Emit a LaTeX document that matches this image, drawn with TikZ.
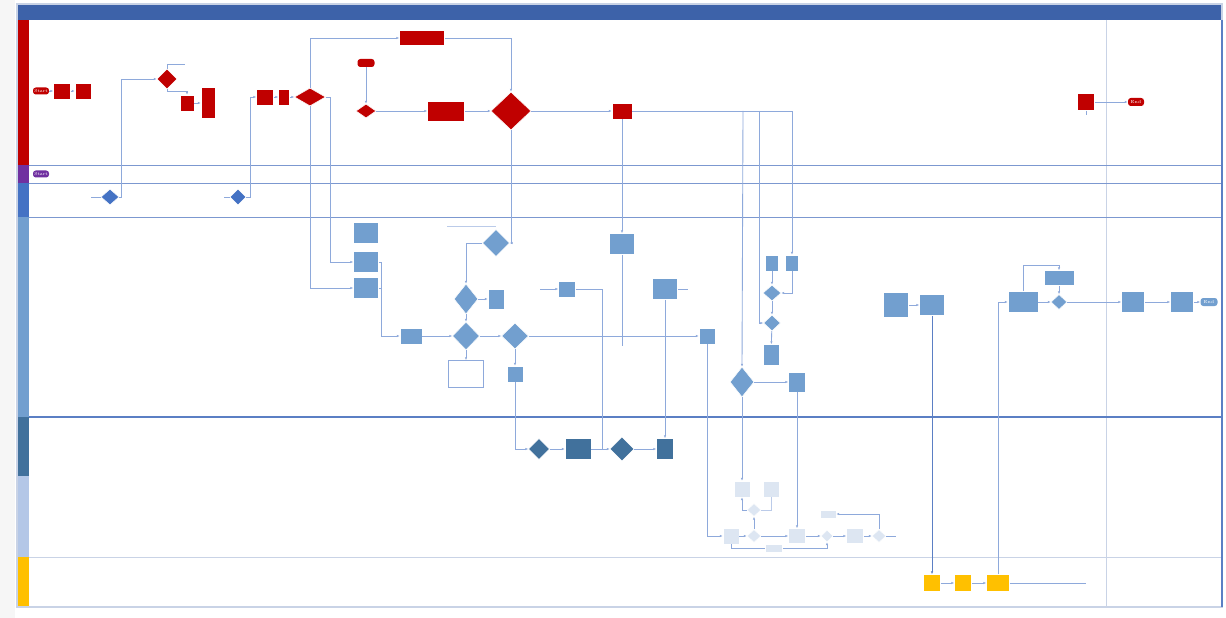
\documentclass[tikz,border=0pt]{standalone}
\usetikzlibrary{shapes.geometric,arrows.meta}
\definecolor{hdr}{HTML}{3D62A9}
\definecolor{rd}{HTML}{C00000}
\definecolor{pu}{HTML}{7030A0}
\definecolor{bl}{HTML}{4472C4}
\definecolor{st}{HTML}{729FCF}
\definecolor{dk}{HTML}{41719C}
\definecolor{pl}{HTML}{B4C7E7}
\definecolor{plf}{HTML}{DDE6F2}
\definecolor{yl}{HTML}{FFC000}
\definecolor{ln}{HTML}{8EA9DB}
\definecolor{lnd}{HTML}{5B7FC4}
\definecolor{fr}{HTML}{C9D3E6}
\tikzset{
  sz/.style 2 args={minimum width=#1*0.02cm,minimum height=#2*0.02cm},
  bx/.style={rectangle,fill=#1,draw=white,line width=0.3pt,inner sep=0pt},
  dm/.style={diamond,fill=#1,draw=white,line width=0.3pt,inner sep=0pt},
  tm/.style={rectangle,rounded corners=1.6pt,fill=#1,inner sep=0pt,text=white,font=\fontsize{2.5}{3}\selectfont},
  cn/.style={draw=ln,line width=0.5pt,-{Latex[length=1.6pt,width=1.3pt]}},
  cl/.style={draw=ln,line width=0.5pt},
}
\begin{document}
\begin{tikzpicture}[x=0.02cm,y=-0.02cm]
\useasboundingbox (0,0) rectangle (1226,618);
\fill[gray!7] (0,0) rectangle (15,618);
% frame, title bar, lanes
\fill[white] (17,4) rectangle (1222,607);
\fill[hdr] (17,4) rectangle (1222,20);
\foreach \ya/\yb/\c in {20/165/rd,165/183/pu,183/217/bl,217/417/st,417/476/dk,476/557/pl,557/607/yl}
  {\fill[\c] (17,\ya) rectangle (29,\yb);}
\draw[fr,line width=0.4pt] (1106,20) -- (1106,607);
\foreach \y in {165,183,217} {\draw[lnd!80,line width=0.5pt] (29,\y) -- (1222,\y);}
\draw[lnd,line width=0.8pt] (29,417) -- (1222,417);
\draw[fr,line width=0.5pt] (29,557) -- (1222,557);
\draw[fr,line width=0.8pt] (17,4) rectangle (1222,607);
\draw[lnd,line width=0.6pt] (1222,20) -- (1222,607);

% red lane
\node[tm=rd,sz={16}{7}] (st1) at (41,91) {Start};
\node[bx=rd,sz={17}{16}] (r1) at (62,91) {};
\node[bx=rd,sz={16}{16}] (r2) at (83,91) {};
\node[dm=rd,sz={20}{20}] (rq1) at (167,79) {};
\node[bx=rd,sz={14}{16}] (r3) at (187,103) {};
\node[bx=rd,sz={14}{31}] (r4) at (208,103) {};
\node[bx=rd,sz={17}{16}] (r5) at (265,97) {};
\node[bx=rd,sz={11}{16}] (r6) at (284,97) {};
\node[dm=rd,sz={31}{18}] (rq2) at (310,97) {};
\node[bx=rd,sz={45}{15}] (r7) at (422,38) {};
\node[tm=rd,sz={17}{8}] (rt) at (366,63) {};
\node[dm=rd,sz={20}{14}] (rq3) at (366,111) {};
\node[bx=rd,sz={37}{20}] (r8) at (446,111) {};
\node[dm=rd,sz={40}{38}] (rq4) at (511,111) {};
\node[bx=rd,sz={20}{16}] (r9) at (622,111) {};
\node[bx=rd,sz={17}{17}] (r10) at (1086,102) {};
\node[tm=rd,sz={16}{8}] (en1) at (1136,102) {End};
% purple and blue lanes
\node[tm=pu,sz={16}{7}] (st2) at (41,174) {Start};
\node[dm=bl,sz={18}{16}] (bq1) at (110,197) {};
\node[dm=bl,sz={16}{16}] (bq2) at (238,197) {};
% steel lane
\node[bx=st,sz={25}{21}] (s1) at (366,233) {};
\node[bx=st,sz={25}{21}] (s2) at (366,262) {};
\node[bx=st,sz={25}{21}] (s3) at (366,288) {};
\node[dm=st,sz={27}{27}] (sq1) at (496,243) {};
\node[dm=st,sz={24}{30}] (sq2) at (466,299) {};
\node[bx=st,sz={16}{20}] (s5) at (496,299) {};
\node[bx=st,sz={22}{16}] (s4) at (411,336) {};
\node[dm=st,sz={27}{28}] (sq3) at (466,336) {};
\node[dm=st,sz={27}{26}] (sq4) at (515,336) {};
\node[rectangle,draw=ln,fill=white,line width=0.4pt,sz={35}{27}] (nt) at (466,374) {};
\node[bx=st,sz={16}{16}] (s6) at (515,374) {};
\node[bx=st,sz={17}{16}] (s7) at (567,289) {};
\node[bx=st,sz={25}{21}] (s8) at (622,244) {};
\node[bx=st,sz={25}{21}] (s10) at (665,289) {};
\node[bx=st,sz={16}{16}] (s9) at (707,336) {};
\node[bx=st,sz={13}{16}] (sa) at (772,263) {};
\node[bx=st,sz={13}{16}] (sb) at (792,263) {};
\node[dm=st,sz={18}{16}] (sq5) at (772,293) {};
\node[dm=st,sz={17}{16}] (sq6) at (772,323) {};
\node[bx=st,sz={16}{21}] (sc) at (771,355) {};
\node[dm=st,sz={24}{30}] (sq7) at (742,382) {};
\node[bx=st,sz={17}{20}] (s11) at (797,382) {};
\node[bx=st,sz={25}{25}] (s12) at (896,305) {};
\node[bx=st,sz={25}{21}] (s13) at (932,305) {};
\node[bx=st,sz={30}{21}] (s14) at (1023,302) {};
\node[bx=st,sz={30}{15}] (s15) at (1059,278) {};
\node[dm=st,sz={16}{15}] (sq8) at (1059,302) {};
\node[bx=st,sz={23}{21}] (s16) at (1133,302) {};
\node[bx=st,sz={23}{21}] (s17) at (1182,302) {};
\node[tm=st,sz={17}{8}] (en2) at (1209,302) {End};
% dark lane
\node[dm=dk,sz={21}{21}] (dq1) at (539,449) {};
\node[bx=dk,sz={26}{21}] (d1) at (578,449) {};
\node[dm=dk,sz={24}{24}] (dq2) at (622,449) {};
\node[bx=dk,sz={17}{21}] (d2) at (665,449) {};
% pale lane
\node[bx=plf,sz={16}{16}] (p1) at (742,489) {};
\node[bx=plf,sz={16}{16}] (p2) at (771,489) {};
\node[dm=plf,sz={14}{13}] (pq1) at (754,510) {};
\node[bx=plf,sz={16}{16}] (p3) at (731,536) {};
\node[dm=plf,sz={14}{13}] (pq2) at (754,536) {};
\node[bx=plf,sz={17}{15}] (p5) at (797,536) {};
\node[dm=plf,sz={12}{12}] (pq3) at (827,536) {};
\node[bx=plf,sz={17}{15}] (p6) at (855,536) {};
\node[dm=plf,sz={14}{13}] (pq4) at (879,536) {};
\node[bx=plf,sz={16}{8}] (p7) at (828,514) {};
\node[bx=plf,sz={17}{8}] (p8) at (774,548) {};
% yellow lane
\node[bx=yl,sz={17}{17}] (y1) at (932,583) {};
\node[bx=yl,sz={17}{17}] (y2) at (963,583) {};
\node[bx=yl,sz={23}{17}] (y3) at (998,583) {};

\coordinate (j1) at (743,111);
\coordinate (j2) at (759,111);
\coordinate (j3) at (602,449);
\coordinate (j4) at (540,289);
\coordinate (j5) at (1086,583);

% connectors
\draw[cn] (st1) -- (r1);
\draw[cn] (r1) -- (r2);
\draw[cl] (bq1.west) -- ++(-10,0);
\draw[cn] (bq1.east) -- ++(2,0) |- (rq1.west);
\draw[cl] (rq1.north) -- ++(0,-4) -- ++(18,0);
\draw[cn] (rq1.south) -- ++(0,2) -| (r3.north);
\draw[cn] (r3) -- (r4);
\draw[cl] (bq2.west) -- ++(-6,0);
\draw[cn] (bq2.east) -- ++(4,0) |- (r5.west);
\draw[cn] (r5) -- (r6);
\draw[cn] (r6) -- (rq2);
\draw[cn] (rq2.north) |- (r7.west);
\draw[cn] (r7.east) -| (rq4.north);
\draw[cn] (rq2.south) |- (s3.west);
\draw[cn] (rq2.east) -- ++(5,0) |- (s2.west);
\draw[cn] (s2.east) -- ++(3,0) |- (s4.west);
\draw[cl] (s3.east) -- ++(3,0);
\draw[cn] (rt) -- (rq3);
\draw[cn] (rq3) -- (r8);
\draw[cn] (r8) -- (rq4);
\draw[cn] (rq4) -- (r9);
\draw[cn] (r9.east) -| (sb.north);
\draw[cn] (j1) -- (sq7.north);
\draw[cn] (j2) |- (sq6.west);
\draw[cn] (r9.south) -- (s8.north);
\draw[cl] (s8.south) -- (622,346);
\draw[cn] (rq4.south) |- (sq1.east);
\draw[cn] (sq1.west) -| (sq2.north);
\draw[cl,ln!60] (447,226) -- (496,226);
\draw[cn] (sq2) -- (s5);
\draw[cn] (sq2) -- (sq3);
\draw[cn] (s4) -- (sq3);
\draw[cn] (sq3) -- (sq4);
\draw[cn] (sq4) -- (s9);
\draw[cn] (sq3) -- (nt);
\draw[cn] (sq4) -- (s6);
\draw[cn] (s6.south) |- (dq1.west);
\draw[cn] (dq1) -- (d1);
\draw[cn] (d1) -- (dq2);
\draw[cn] (dq2) -- (d2);
\draw[cn] (j4) -- (s7.west);
\draw[cl] (s7.east) -| (j3);
\draw[cn] (s10.south) -- (d2.north);
\draw[cl] (s10.east) -- ++(10,0);
\draw[cn] (s9.south) |- (p3.west);
\draw[cn] (sa) -- (sq5);
\draw[cn] (sb.south) |- (sq5.east);
\draw[cn] (sq5) -- (sq6);
\draw[cn] (sq6) -- (sc);
\draw[cn] (sq7) -- (s11);
\draw[cn] (s11.south) -- (p5.north);
\draw[cn] (sq7.south) -- (p1.north);
\draw[cn] (s12) -- (s13);
\draw[cn,draw=lnd] (s13.south) -- (y1.north);
\draw[cn] (y3.north) |- (s14.west);
\draw[cn] (s14.north) -- ++(0,-26) -| (s15.north);
\draw[cn] (s15) -- (sq8);
\draw[cn] (s14) -- (sq8);
\draw[cn] (sq8) -- (s16);
\draw[cn] (s16) -- (s17);
\draw[cn] (s17) -- (en2);
\draw[cn] (r10) -- (en1);
\draw[cl] (r10.south) -- ++(0,4);
\draw[cn] (p3) -- (pq2);
\draw[cn] (pq2) -- (p5);
\draw[cn] (p5) -- (pq3);
\draw[cn] (pq3) -- (p6);
\draw[cn] (p6) -- (pq4);
\draw[cl] (pq4.east) -- ++(10,0);
\draw[cn] (pq2) -- (pq1);
\draw[cn] (pq1.west) -| (p1.south);
\draw[cl,ln!60] (pq1.east) -| (p2.south);
\draw[cl] (p3.south) |- (p8.west);
\draw[cn] (p8.east) -| (pq3.south);
\draw[cn] (pq4.north) |- (p7.east);
\draw[cn] (y1) -- (y2);
\draw[cn] (y2) -- (y3);
\draw[cl] (y3) -- (j5);
\end{tikzpicture}
\end{document}
